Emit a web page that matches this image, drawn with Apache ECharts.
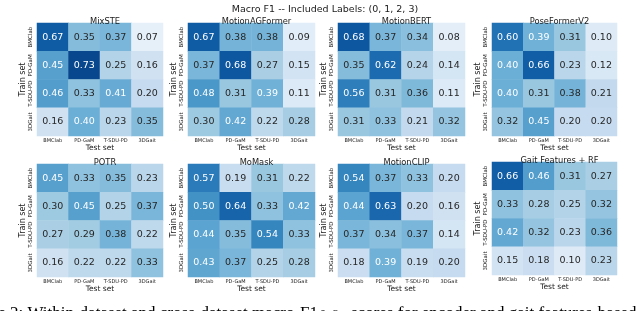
<!DOCTYPE html>
<html><head><meta charset="utf-8">
<script src="https://cdn.jsdelivr.net/npm/echarts@6/dist/echarts.min.js"></script>
<style>html,body{margin:0;padding:0;background:#fff}#c{width:640px;height:311px}</style>
</head><body><div id="c"></div>
<script>
const mainTitle = 'Macro F1 -- Included Labels: (0, 1, 2, 3)';
const testSets = ['BMClab', 'PD-GaM', 'T-SDU-PD', '3DGait'];
const trainSets = ['BMClab', 'PD-GaM', 'T-SDU-PD', '3DGait'];
const modelNames = ['MixSTE', 'MotionAGFormer', 'MotionBERT', 'PoseFormerV2', 'POTR', 'MoMask', 'MotionCLIP', 'Gait Features + RF'];
// rows = train set, columns = test set
const mixste = [[0.67,0.35,0.37,0.07],[0.45,0.73,0.25,0.16],[0.46,0.33,0.41,0.20],[0.16,0.40,0.23,0.35]];
const motionAGFormer = [[0.67,0.38,0.38,0.09],[0.37,0.68,0.27,0.15],[0.48,0.31,0.39,0.11],[0.30,0.42,0.22,0.28]];
const motionBERT = [[0.68,0.37,0.34,0.08],[0.35,0.62,0.24,0.14],[0.56,0.31,0.36,0.11],[0.31,0.33,0.21,0.32]];
const poseFormerV2 = [[0.60,0.39,0.31,0.10],[0.40,0.66,0.23,0.12],[0.40,0.31,0.38,0.21],[0.32,0.45,0.20,0.20]];
const potr = [[0.45,0.33,0.35,0.23],[0.30,0.45,0.25,0.37],[0.27,0.29,0.38,0.22],[0.16,0.22,0.22,0.33]];
const moMask = [[0.57,0.19,0.31,0.22],[0.50,0.64,0.33,0.42],[0.44,0.35,0.54,0.33],[0.43,0.37,0.25,0.28]];
const motionCLIP = [[0.54,0.37,0.33,0.20],[0.44,0.63,0.20,0.16],[0.37,0.34,0.37,0.14],[0.18,0.39,0.19,0.20]];
const gaitRF = [[0.66,0.46,0.31,0.27],[0.33,0.28,0.25,0.32],[0.42,0.32,0.23,0.36],[0.15,0.18,0.10,0.23]];
const matrices = [mixste, motionAGFormer, motionBERT, poseFormerV2, potr, moMask, motionCLIP, gaitRF];

const BLUES = ['#f7fbff','#deebf7','#c6dbef','#9ecae1','#6baed6','#4292c6','#2171b5','#08519c','#08306b'];
const VMIN = 0, VMAX = 0.8;
function hex2rgb(h){return [1,3,5].map(i=>parseInt(h.substr(i,2),16));}
function bluesAt(v){
  let t = Math.max(0, Math.min(1, (v - VMIN) / (VMAX - VMIN))) * (BLUES.length - 1);
  let i = Math.min(Math.floor(t), BLUES.length - 2), f = t - i;
  const a = hex2rgb(BLUES[i]), b = hex2rgb(BLUES[i+1]);
  return a.map((x,k)=>x + (b[k]-x)*f);
}
function textColor(v){
  const c = bluesAt(v).map(x=>{x/=255;return x<=0.03928?x/12.92:Math.pow((x+0.055)/1.055,2.4);});
  const L = 0.2126*c[0]+0.7152*c[1]+0.0722*c[2];
  return L > 0.408 ? '#262626' : '#ffffff';
}

const FONT = 'DejaVu Sans';
const lefts = [37, 188, 338, 492];
const widths = [126, 127, 127, 125];
const tops = [23, 23, 23, 23, 164, 164, 164, 162];
const H = 113;

const grid = [], xAxis = [], yAxis = [], series = [];
const title = [{text: mainTitle, left: 320, top: 0, textAlign: 'center',
  textStyle: {fontFamily: FONT, fontSize: 9.5, fontWeight: 'normal', color: '#1a1a1a'}}];
matrices.forEach((m, k) => {
  const col = k % 4;
  grid.push({left: lefts[col], top: tops[k], width: widths[col], height: H});
  title.push({text: modelNames[k], left: lefts[col] + widths[col]/2, top: tops[k] - 10, textAlign: 'center',
    textStyle: {fontFamily: FONT, fontSize: 8.3, fontWeight: 'normal', color: '#1a1a1a'}});
  xAxis.push({type: 'category', gridIndex: k, data: testSets, name: 'Test set', nameLocation: 'middle', nameGap: 8,
    nameTextStyle: {fontFamily: FONT, fontSize: 7.5, color: '#1a1a1a'},
    axisLine: {show: false}, axisTick: {show: false}, splitLine: {show: false},
    axisLabel: {fontFamily: FONT, fontSize: 5, color: '#1a1a1a', margin: 2, interval: 0}});
  yAxis.push({type: 'category', gridIndex: k, data: trainSets, inverse: true, name: 'Train set', nameLocation: 'middle', nameGap: 9,
    nameTextStyle: {fontFamily: FONT, fontSize: 8, color: '#1a1a1a'},
    axisLine: {show: false}, axisTick: {show: false}, splitLine: {show: false},
    axisLabel: {fontFamily: FONT, fontSize: 5.5, color: '#1a1a1a', margin: 3, rotate: 90, interval: 0}});
  const data = [];
  m.forEach((row, r) => row.forEach((v, c) => {
    data.push({value: [c, r, v], label: {color: textColor(v)}});
  }));
  series.push({type: 'heatmap', xAxisIndex: k, yAxisIndex: k, data: data,
    label: {show: true, fontFamily: FONT, fontSize: 9.5, formatter: p => p.value[2].toFixed(2)},
    itemStyle: {borderWidth: 0}, emphasis: {disabled: true}});
});

const chart = echarts.init(document.getElementById('c'), null, {renderer: 'canvas'});
chart.setOption({
  animation: false,
  backgroundColor: '#ffffff',
  title, grid, xAxis, yAxis, series,
  visualMap: {show: false, min: VMIN, max: VMAX, dimension: 2, inRange: {color: BLUES}},
  graphic: [
    {type: 'text', x: 318, y: 305, style: {text: 'Figure 2: Within-dataset and cross-dataset macro-F1', fontFamily: 'Liberation Serif', fontSize: 17, fill: '#000', textAlign: 'right', textVerticalAlign: 'alphabetic'}},
    {type: 'text', x: 320, y: 309, style: {text: '0\u22123', fontFamily: 'Liberation Serif', fontSize: 12, fill: '#000', textAlign: 'left', textVerticalAlign: 'alphabetic'}},
    {type: 'text', x: 351, y: 305, style: {text: 'scores for encoder and gait features-based models', fontFamily: 'Liberation Serif', fontSize: 17, fill: '#000', textAlign: 'left', textVerticalAlign: 'alphabetic'}}
  ]
});
</script></body></html>
